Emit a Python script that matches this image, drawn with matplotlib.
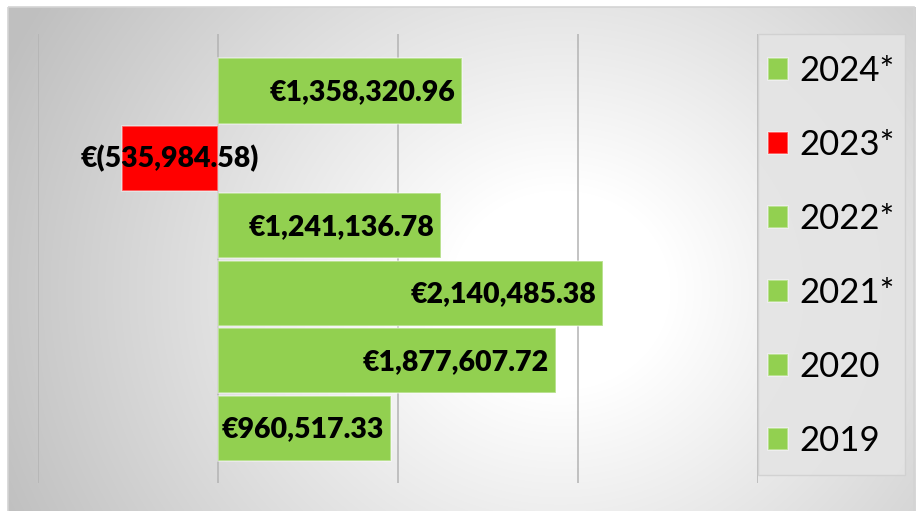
import numpy as np
import matplotlib
matplotlib.use("Agg")
import matplotlib.pyplot as plt
from matplotlib.patches import Rectangle

# data, bottom to top
categories = ["2019", "2020", "2021*", "2022*", "2023*", "2024*"]
values = [960517.33, 1877607.72, 2140485.38, 1241136.78, -535984.58, 1358320.96]
colors = ["#92d050", "#92d050", "#92d050", "#92d050", "#ff0000", "#92d050"]
grid_ticks = [-1e6, 0, 1e6, 2e6, 3e6]

W, H = 916, 511
plt.rcParams["font.family"] = ["Lato", "DejaVu Sans"]


def euro(v):
    if v < 0:
        return "€({:,.2f})".format(-v)
    return "€{:,.2f}".format(v)


fig = plt.figure(figsize=(W / 100, H / 100), dpi=100)

# radial gradient background behind everything
bg = fig.add_axes([0, 0, 1, 1], zorder=-5)
bg.set_xlim(0, W)
bg.set_ylim(H, 0)
bg.axis("off")
yy, xx = np.mgrid[0:H, 0:W]
r = np.hypot(xx - 560, (yy - 290) * 1.1)
shade = 1 - 0.25 * np.clip((r - 110) / 500, 0, 1)
img = np.dstack([shade, shade, shade])
img[:7, :, :] = 1
img[:, :8, :] = 1
bg.imshow(img, extent=(0, W, H, 0), aspect="auto", interpolation="bilinear")
bg.add_patch(Rectangle((8, 7), W - 10, H, fill=False, edgecolor="#d4d4d4", lw=1.2))

ax = fig.add_axes([38 / W, 28 / H, 720 / W, 449 / H])
ax.set_facecolor("none")
pos = np.arange(len(categories))
bars = ax.barh(pos, values, height=0.97, color=colors,
               edgecolor=(1, 1, 1, 0.45), linewidth=1.2, zorder=3)
ax.set_xlim(-1e6, 3e6)
ax.set_ylim(-0.811, 5.841)
ax.set_xticks(grid_ticks)
ax.set_yticks([])
ax.tick_params(length=0, labelbottom=False)
ax.grid(axis="x", color="#b3b3b3", lw=1.1, zorder=0)
for s in ax.spines.values():
    s.set_visible(False)

for p, v in zip(pos, values):
    if v < 0:
        ax.text(v / 2, p, euro(v), ha="center", va="center",
                fontsize=20.5, fontweight="heavy", zorder=5)
    else:
        ax.annotate(euro(v), (v, p), xytext=(-7, -1), textcoords="offset pixels",
                    ha="right", va="center", fontsize=20.5, fontweight="heavy", zorder=5)

# legend box
box = Rectangle((758 / W, 1 - 475 / H), 147 / W, 441 / H, transform=fig.transFigure,
                facecolor="#e4e4e4", edgecolor="#d0d0d0", lw=1, alpha=0.9, zorder=2)
fig.add_artist(box)
leg = fig.legend(bars.patches[::-1], categories[::-1], loc="center",
                 bbox_to_anchor=(831 / W, 1 - 256 / H), frameon=False,
                 fontsize=25, handlelength=0.58, handleheight=0.58,
                 handletextpad=0.32, labelspacing=1.21)
leg.set_zorder(6)

fig.savefig("out.png", dpi=100)
